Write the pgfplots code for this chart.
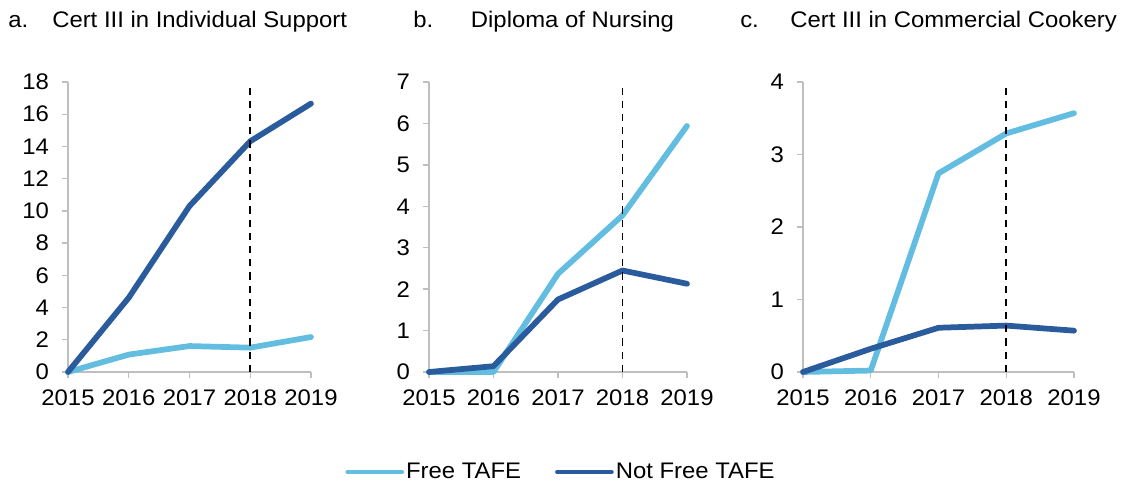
\documentclass[border=0pt]{standalone}
\usepackage{fontspec}
\setmainfont[FakeStretch=1.06]{Liberation Sans}
\usepackage{pgfplots}
\pgfplotsset{compat=1.18}
\definecolor{lightb}{HTML}{62BDE0}
\definecolor{darkb}{HTML}{2A5B9C}
\definecolor{axgray}{HTML}{BFBFBF}
\pgfplotsset{
  panel/.style={
    scale only axis,
    anchor=south west,
    height=217.5pt,
    xmin=2015, xmax=2019, ymin=0,
    xtick={2015,2016,2017,2018,2019},
    xticklabels={2015,2016,2017,2018,2019},
    axis x line*=bottom, axis y line*=left,
    axis line style={draw=axgray, line width=1pt, -},
    tick style={draw=axgray, line width=1pt},
    tick align=outside,
    major tick length=4.5pt,
    /pgf/number format/assume math mode=true,
    yticklabel style={xshift=-4pt},
    xticklabel style={yshift=-3pt},
    clip=false,
    every axis plot/.append style={line width=4.3pt, line join=round, line cap=round},
  },
  free/.style={color=lightb},
  notfree/.style={color=darkb},
  vline/.style={black, line width=1.4pt, dash pattern=on 5.4pt off 4.5pt, line cap=butt},
}
\begin{document}
\fontsize{16.9pt}{20pt}\selectfont
\begin{tikzpicture}
\path[use as bounding box] (0,0) rectangle (846.75pt,363pt);
% titles
\node[anchor=base west, inner sep=0pt] at (6pt,342pt) {a.};
\node[anchor=base west, inner sep=0pt] at (39pt,342pt) {Cert III in Individual Support};
\node[anchor=base west, inner sep=0pt] at (309.75pt,342pt) {b.};
\node[anchor=base west, inner sep=0pt] at (353pt,342pt) {Diploma of Nursing};
\node[anchor=base west, inner sep=0pt] at (555pt,342pt) {c.};
\node[anchor=base west, inner sep=0pt] at (592.5pt,342pt) {Cert III in Commercial Cookery};
% panel a
\begin{axis}[panel, at={(51pt,84pt)}, width=182.25pt, ymax=18, ytick={0,2,...,18}]
\addplot[free] coordinates {(2015,0) (2016,1.08) (2017,1.61) (2018,1.51) (2019,2.17)};
\addplot[notfree] coordinates {(2015,0) (2016,4.61) (2017,10.30) (2018,14.32) (2019,16.66)};
\addplot[vline] coordinates {(2018,0) (2018,17.6)};
\end{axis}
% panel b
\begin{axis}[panel, at={(321.75pt,84pt)}, width=193.5pt, ymax=7, ytick={0,1,...,7},
  legend columns=2,
  legend style={at={(0.5116,-0.345)}, anchor=center, draw=none, fill=none,
    /tikz/every even column/.append style={column sep=24pt},
    nodes={inner sep=1.5pt}},
  legend image code/.code={\draw[#1, line width=3pt, line cap=round] (0pt,0pt) -- (41pt,0pt);},
]
\addplot[free] coordinates {(2015,0) (2016,0.0) (2017,2.37) (2018,3.78) (2019,5.94)};
\addlegendentry{Free TAFE}
\addplot[notfree] coordinates {(2015,0) (2016,0.14) (2017,1.75) (2018,2.45) (2019,2.13)};
\addlegendentry{Not Free TAFE}
\addplot[vline, forget plot] coordinates {(2018,0) (2018,7)};
\end{axis}
% panel c
\begin{axis}[panel, at={(602.25pt,84pt)}, width=203.25pt, ymax=4, ytick={0,1,...,4}]
\addplot[free] coordinates {(2015,0) (2016,0.02) (2017,2.74) (2018,3.29) (2019,3.57)};
\addplot[notfree] coordinates {(2015,0) (2016,0.32) (2017,0.61) (2018,0.64) (2019,0.57)};
\addplot[vline] coordinates {(2018,0) (2018,4)};
\end{axis}
\end{tikzpicture}
\end{document}
